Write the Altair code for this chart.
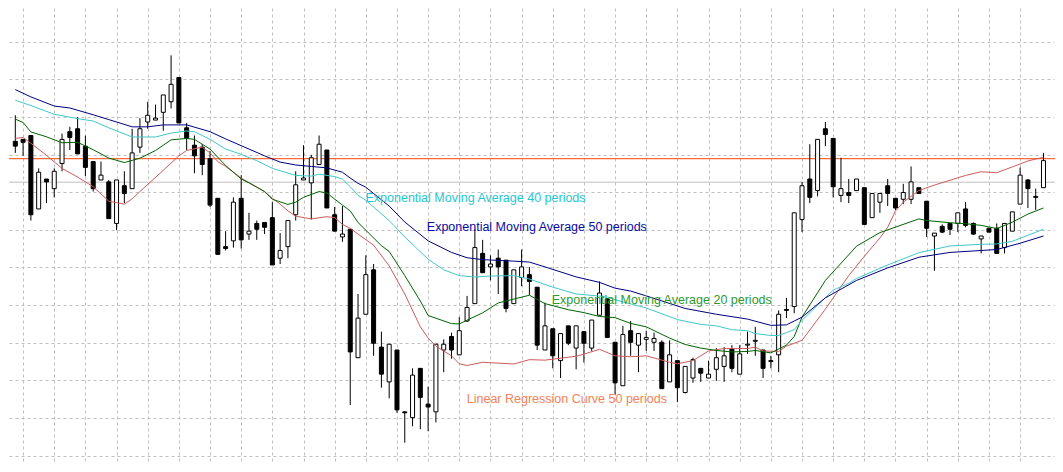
import altair as alt
import pandas as pd

# ---------------- candle data (price points) ----------------
idx = list(range(133))
opens = [342, 344, 348, 272, 303, 293, 319, 352, 355, 337,
         321, 302, 300, 257, 296, 293, 336, 362, 364, 372,
         383, 408, 356, 338, 336, 324, 283, 233, 239, 283,
         246, 257, 258, 263, 221, 233, 266, 302, 299, 318,
         333, 266, 243, 251, 118, 163, 209, 129, 93, 126,
         62, 56, 107, 70, 62, 126, 140, 121, 156, 174,
         226, 212, 221, 219, 174, 201, 204, 191, 126, 148,
         115, 151, 128, 145, 128, 162, 179, 134, 89, 146,
         131, 137, 134, 134, 93, 115, 82, 97, 107, 97,
         106, 109, 127, 101, 131, 135, 126, 115, 121, 168,
         171, 261, 303, 291, 355, 345, 286, 289, 291, 294,
         263, 279, 296, 283, 282, 282, 294, 280, 244, 254,
         257, 257, 272, 257, 241, 252, 252, 232, 249, 277,
         302, 285, 294]
highs = [369, 344, 348, 314, 303, 314, 350, 357, 367, 348,
         321, 321, 302, 302, 311, 355, 366, 383, 380, 390,
         431, 408, 361, 348, 339, 332, 283, 249, 284, 307,
         268, 260, 258, 279, 247, 260, 311, 338, 328, 348,
         333, 274, 275, 251, 184, 224, 215, 145, 132, 126,
         62, 107, 107, 88, 132, 137, 144, 160, 182, 251,
         240, 224, 230, 219, 209, 230, 212, 191, 175, 148,
         143, 151, 151, 145, 157, 197, 179, 134, 151, 156,
         143, 146, 144, 136, 136, 115, 109, 118, 107, 115,
         128, 129, 131, 131, 145, 150, 126, 120, 167, 180,
         268, 300, 339, 344, 362, 345, 325, 303, 303, 294,
         288, 288, 303, 283, 298, 316, 294, 280, 247, 256,
         257, 268, 279, 258, 244, 252, 257, 257, 269, 315,
         303, 293, 330]
lows = [330, 327, 260, 272, 278, 284, 311, 333, 329, 306,
        290, 302, 262, 250, 278, 293, 330, 355, 364, 353,
        376, 361, 333, 309, 307, 274, 225, 229, 232, 231,
        240, 240, 246, 214, 215, 221, 260, 302, 261, 318,
        273, 249, 238, 69, 118, 163, 120, 87, 76, 61,
        30, 47, 44, 42, 51, 103, 117, 121, 155, 174,
        206, 198, 184, 165, 174, 192, 183, 126, 126, 107,
        97, 131, 106, 113, 125, 162, 139, 80, 89, 120,
        103, 125, 125, 86, 93, 72, 81, 92, 93, 97,
        94, 93, 103, 101, 122, 120, 97, 107, 103, 159,
        164, 248, 278, 285, 337, 284, 279, 278, 291, 256,
        263, 268, 275, 271, 277, 277, 288, 243, 208, 247,
        245, 248, 253, 245, 226, 248, 226, 226, 249, 277,
        273, 271, 294]
closes = [337, 341, 266, 310, 300, 311, 344, 346, 329, 315,
          293, 307, 262, 302, 288, 330, 355, 369, 366, 390,
          401, 361, 345, 327, 318, 276, 225, 231, 279, 240,
          249, 251, 253, 214, 229, 260, 297, 304, 325, 339,
          273, 249, 246, 124, 159, 204, 133, 101, 132, 64,
          61, 100, 77, 67, 132, 132, 126, 146, 170, 232,
          206, 215, 212, 169, 209, 212, 197, 131, 151, 120,
          143, 133, 151, 133, 157, 185, 139, 92, 142, 134,
          143, 139, 138, 86, 121, 87, 109, 116, 102, 101,
          118, 120, 107, 122, 132, 136, 107, 114, 163, 167,
          268, 296, 284, 344, 349, 295, 293, 286, 303, 256,
          288, 288, 288, 273, 289, 300, 288, 252, 247, 248,
          251, 268, 255, 246, 244, 248, 226, 257, 269, 307,
          293, 284, 322]

# ---------------- indicator lines (read at bar indices) ----------------
ema50_i = [0, 2, 5, 7, 10, 12, 15, 17, 19, 22, 25, 27, 30, 32, 34, 36, 38, 40, 42, 43,
           44, 45, 48, 50, 53, 56, 58, 60, 64, 66, 68, 72, 75, 77, 79, 81, 86, 90, 94, 97,
           99, 100, 101, 104, 108, 112, 116, 120, 124, 126, 129, 132]
ema50_v = [395.5, 388, 378.5, 376.5, 369.5, 364.5, 357, 357, 359, 359, 352, 344.5, 334, 327,
           320.5, 317.5, 316, 314.5, 310, 304, 298.5, 294.5, 275, 258.5, 239, 227, 221.5,
           219.5, 218, 217, 212, 201.7, 196, 190, 187, 182, 169, 163, 158, 151.5, 152, 156,
           160, 180, 198, 211, 222, 227, 229, 230, 236.5, 244]

ema40_i = [0, 2, 5, 8, 10, 12, 15, 18, 20, 22, 23, 25, 27, 29, 31, 33, 36, 38, 39, 41,
           42, 43, 44, 45, 47, 48, 50, 53, 55, 57, 59, 61, 64, 66, 69, 72, 76, 77, 81, 85,
           88, 90, 92, 94, 95, 97, 98, 99, 100, 101, 105, 107, 108, 112, 116, 120, 124, 126,
           128, 132]
ema40_v = [384.5, 379, 370, 365.5, 363, 356, 346.5, 346.5, 350.5, 352.7, 352, 344, 334,
           328.5, 322, 314, 306.7, 306, 308, 305.5, 303, 295, 286, 281, 267, 260, 243, 220,
           209, 203, 201.5, 202.5, 203, 199.5, 191, 184, 181, 178, 169.5, 157.5, 152.5, 151,
           147, 146, 143, 141, 141, 144, 147, 156.7, 188, 195, 200, 214, 226.7, 233.7, 235.4,
           235.7, 238.5, 251]

ema20_i = [0, 1, 2, 4, 6, 8, 10, 12, 14, 16, 18, 20, 22, 23, 25, 27, 29, 30, 32, 33,
           35, 36, 37, 39, 40, 42, 43, 44, 45, 47, 48, 50, 52, 53, 56, 57, 60, 62, 66, 68,
           71, 73, 75, 77, 79, 81, 84, 86, 88, 90, 92, 94, 95, 97, 98, 99, 100, 101, 104,
           108, 111, 116, 117, 120, 122, 124, 126, 128, 130, 132]
ema20_v = [365, 361.5, 351.7, 346.7, 340.5, 341, 333.3, 324.7, 320, 324.5, 332.5, 343.5,
           345, 344, 334, 317, 303, 299, 290, 282, 276.7, 279, 284, 290, 288.5, 276, 270,
           258, 250, 234, 228, 203, 176.7, 161.7, 153.3, 153, 164.5, 174.7, 182.7, 174,
           167.7, 164.7, 160.7, 159.5, 153.5, 150, 138.3, 131.7, 128, 125.5, 124, 124.5,
           125.5, 123, 127, 131, 140, 160, 198, 233.5, 247.5, 261.7, 260, 257.7, 256.7, 255,
           251.7, 258.3, 266.7, 273]

linreg_i = [0, 1, 2, 4, 6, 8, 10, 12, 14, 15, 16, 19, 21, 22, 24, 25, 26, 27, 29, 32,
            33, 34, 35, 36, 38, 40, 41, 42, 43, 44, 46, 48, 50, 52, 53, 54, 56, 57, 58, 60,
            64, 66, 68, 72, 73, 75, 77, 79, 81, 84, 85, 87, 89, 91, 94, 95, 96, 98, 99, 101,
            104, 106, 107, 109, 111, 112, 113, 114, 116, 118, 120, 122, 124, 126, 128, 130,
            132]
linreg_v = [345, 346, 340, 327.5, 314, 305, 295, 280, 277, 282.5, 290, 312, 327, 332.5,
            336, 330, 321, 316, 304, 290, 283, 277, 270, 264.5, 261.7, 264, 263, 256, 252,
            246, 234.5, 213, 184, 150, 138.3, 130, 120, 111.7, 110, 113.3, 111.5, 116,
            115.5, 119.5, 121.7, 126.7, 120, 119, 120, 113.3, 111.7, 115, 125, 127.5, 127.5,
            129, 125, 124.5, 130, 136, 168.3, 191.5, 203, 223, 242, 253, 270, 279, 291,
            296.7, 301.7, 306.7, 310.5, 309.5, 315.5, 321.7, 325.5]

# horizontal price levels
level_names = ["ask", "bid"]
level_values = [324, 299.7]
level_colors = ["#FF4500", "#C0C0C0"]

# labels
label_texts = ["Exponential Moving Average 40 periods",
               "Exponential Moving Average 50 periods",
               "Exponential Moving Average 20 periods",
               "Linear Regression Curve 50 periods"]
label_i = [44.96, 52.83, 68.87, 57.96]
label_p = [279, 249, 174, 71]
label_colors = ["#1EC8D2", "#0A0AA0", "#2E9A2E", "#F3825A"]

# grid
grid_x = list(range(1, 133, 4))
grid_y = [445, 406.1, 367.1, 328.2, 289.2, 250.3, 211.4, 172.4, 133.5, 94.5, 55.6, 16.7]

W, H = 1047, 456
xs = alt.Scale(domain=[-0.1667, 132.708], nice=False, zero=False)
ys = alt.Scale(domain=[8, 480], nice=False, zero=False)
xax = alt.Axis(values=grid_x, grid=True, gridColor="#C0C0C0", gridDash=[3, 3], gridWidth=1,
               labels=False, ticks=False, domain=False, title=None)
yax = alt.Axis(values=grid_y, grid=True, gridColor="#C0C0C0", gridDash=[3, 3], gridWidth=1,
               labels=False, ticks=False, domain=False, title=None)


def X(f):
    return alt.X(f, type="quantitative", scale=xs, axis=xax)


def Y(f):
    return alt.Y(f, type="quantitative", scale=ys, axis=yax)


candles = pd.DataFrame({"i": idx, "o": opens, "h": highs, "l": lows, "c": closes})
candles["up"] = candles["c"] >= candles["o"]
candles["fill"] = candles["up"].map({True: "#FFFFFF", False: "#000000"})

levels = pd.DataFrame({"name": level_names, "p": level_values, "col": level_colors})

levels_layer = alt.Chart(levels).mark_rule(strokeWidth=1).encode(
    x=X("i_dummy").scale(xs) if False else alt.value(0),
    x2=alt.value(W),
    y=Y("p"),
    color=alt.Color("col:N", scale=None),
)

wicks = alt.Chart(candles).mark_rule(color="#000000", strokeWidth=1).encode(
    x=X("i"), y=Y("l"), y2="h"
)
bodies = alt.Chart(candles).mark_bar(width=4, stroke="#000000", strokeWidth=1).encode(
    x=X("i"), y=Y("o"), y2="c", fill=alt.Fill("fill:N", scale=None)
)


def line(ii, vv, color):
    df = pd.DataFrame({"i": ii, "v": vv})
    return alt.Chart(df).mark_line(color=color, strokeWidth=1).encode(x=X("i"), y=Y("v"))


lines = [
    line(linreg_i, linreg_v, "#CD5C5C"),
    line(ema20_i, ema20_v, "#006400"),
    line(ema40_i, ema40_v, "#40C8C8"),
    line(ema50_i, ema50_v, "#000080"),
]

labels = pd.DataFrame({"t": label_texts, "i": label_i, "p": label_p, "col": label_colors})
text_layer = alt.Chart(labels).mark_text(
    align="left", baseline="alphabetic", font="Liberation Sans", fontSize=12.5
).encode(x=X("i"), y=Y("p"), text="t:N", color=alt.Color("col:N", scale=None))

chart = alt.layer(levels_layer, wicks, bodies, *lines, text_layer).properties(
    width=W, height=H, background="#FFFFFF", padding=0,
    autosize=alt.AutoSizeParams(type="fit", contains="padding"),
).configure_view(stroke=None)

chart.save("out.html", embed_options={"renderer": "svg", "actions": False})
